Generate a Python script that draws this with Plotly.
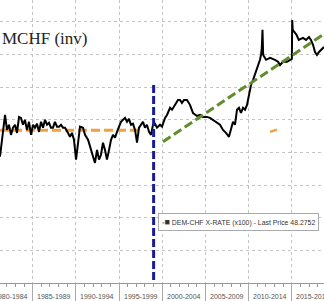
import plotly.graph_objects as go

# --- data ---
years = [1981.22, 1981.45, 1981.80, 1982.03, 1982.26, 1982.49, 1982.72, 1982.96, 1983.19, 1983.42,
         1983.65, 1983.88, 1984.11, 1984.34, 1984.58, 1984.81, 1985.04, 1985.27, 1985.50, 1985.73,
         1985.97, 1986.20, 1986.43, 1986.66, 1986.89, 1987.12, 1987.35, 1987.58, 1987.82, 1988.05,
         1988.28, 1988.51, 1988.74, 1988.97, 1989.32, 1989.55, 1989.78, 1990.02, 1990.25, 1990.48,
         1990.83, 1991.06, 1991.41, 1991.75, 1991.98, 1992.21, 1992.45, 1992.68, 1992.91, 1993.14,
         1993.37, 1993.60, 1993.84, 1994.07, 1994.30, 1994.53, 1994.76, 1994.99, 1995.22, 1995.46,
         1995.69, 1995.92, 1996.15, 1996.38, 1996.61, 1996.85, 1997.08, 1997.31, 1997.54, 1997.77,
         1998.00, 1998.23, 1998.47, 1998.70, 1998.93, 1999.16, 1999.39, 1999.74, 1999.97, 2000.32,
         2000.55, 2000.90, 2001.13, 2001.47, 2001.82, 2002.05, 2002.28, 2002.52, 2002.86, 2003.21,
         2003.56, 2004.02, 2004.37, 2004.71, 2005.18, 2005.52, 2005.87, 2006.33, 2006.68, 2007.03,
         2007.38, 2007.72, 2007.96, 2008.19, 2008.42, 2008.65, 2008.88, 2009.11, 2009.35, 2009.58,
         2009.81, 2010.04, 2010.27, 2010.50, 2010.73, 2010.85, 2011.08, 2011.31, 2011.43, 2011.52,
         2011.60, 2011.68, 2012.01, 2012.47, 2013.05, 2013.40, 2013.63, 2013.98, 2014.44, 2014.79,
         2015.00, 2015.04, 2015.10, 2015.30, 2015.55, 2015.80, 2016.00, 2016.29, 2016.64, 2016.98,
         2017.21, 2017.45, 2017.68, 2017.91, 2018.14, 2018.37, 2018.72]
dem_chf_inv = [91.3, 86.1, 78.5, 83.1, 81.5, 84.6, 82.4, 81.5, 84.0, 79.1,
               79.4, 81.5, 80.0, 83.1, 80.6, 84.6, 81.5, 82.4, 81.2, 83.7,
               80.6, 82.4, 80.0, 81.5, 80.9, 82.4, 82.4, 80.6, 82.1, 82.1,
               81.5, 82.4, 82.4, 83.4, 85.2, 84.0, 86.1, 92.2, 87.0, 82.1,
               82.4, 84.6, 86.1, 89.2, 90.7, 93.2, 89.2, 92.2, 90.7, 87.0,
               89.2, 92.2, 89.2, 86.1, 84.6, 85.5, 83.7, 82.4, 80.6, 80.0,
               79.4, 80.6, 79.7, 81.5, 81.2, 83.1, 87.0, 82.4, 81.5, 80.6,
               82.4, 81.5, 83.7, 84.6, 81.5, 81.2, 82.4, 81.5, 82.1, 79.4,
               78.5, 76.3, 76.9, 75.4, 73.9, 73.9, 74.8, 73.9, 73.9, 75.4,
               77.9, 78.8, 78.5, 79.1, 79.1, 79.4, 80.0, 80.9, 81.5, 83.1,
               84.0, 85.2, 83.1, 80.6, 81.5, 76.9, 76.3, 77.9, 76.3, 76.9,
               75.4, 72.3, 69.3, 67.8, 66.2, 65.3, 63.2, 61.6, 60.1, 58.0,
               52.4, 60.1, 61.6, 61.0, 61.6, 62.2, 63.2, 62.2, 62.2, 61.6,
               61.3, 49.4, 52.4, 53.1, 54.0, 55.5, 55.2, 54.9, 55.5, 54.6,
               55.5, 57.0, 59.2, 60.1, 59.2, 58.6, 57.7]

orange_x = [1981.22, 1997.70]
orange_y = [83.2, 83.2]
orange2_x = [2012.47, 2013.28]
orange2_y = [83.7, 83.0]
green_x = [2000.09, 2018.72]
green_y = [86.7, 53.7]
euro_x = [1999.0, 1999.0]
euro_y = [69.3, 130.0]

period_starts = [1980, 1985, 1990, 1995, 2000, 2005, 2010, 2015]
period_labels = ["1980-1984", "1985-1989", "1990-1994", "1995-1999",
                 "2000-2004", "2005-2009", "2010-2014", "2015-2019"]
grid_years = [1985, 1990, 1995, 2000, 2005, 2010, 2015]
grid_levels = [50, 60, 70, 80, 90, 100, 110, 120]

title_text = "MCHF (inv)"
legend_text = ("<span style='color:#aaa'>▪</span><span style='font-size:9px'>■</span>"
               " DEM-CHF X-RATE (x100) - Last Price 48.2752")

fig = go.Figure()
fig.add_trace(go.Scatter(x=orange_x, y=orange_y, mode="lines",
                         line=dict(color="#F2A03D", width=3, dash="9px,4px"), hoverinfo="skip"))
fig.add_trace(go.Scatter(x=orange2_x, y=orange2_y, mode="lines",
                         line=dict(color="#F2A03D", width=2.5), hoverinfo="skip"))
fig.add_trace(go.Scatter(x=years, y=dem_chf_inv, mode="lines",
                         line=dict(color="#000000", width=2)))
fig.add_trace(go.Scatter(x=green_x, y=green_y, mode="lines",
                         line=dict(color="#5F8E2A", width=3, dash="9px,4px"), hoverinfo="skip"))
fig.add_trace(go.Scatter(x=euro_x, y=euro_y, mode="lines",
                         line=dict(color="#1A1A9C", width=3, dash="8px,3px"), hoverinfo="skip"))

annotations = [
    dict(text=title_text, x=0, y=1 - 38.5 / 283, xref="paper", yref="paper",
         xanchor="left", yanchor="middle", showarrow=False,
         font=dict(family="Liberation Serif", size=17, color="#222")),
    dict(text=legend_text, x=238.5 / 324, y=(283 - 221.5) / 283, xref="paper", yref="paper",
         xanchor="center", yanchor="middle", showarrow=False,
         font=dict(family="Liberation Sans", size=6.9, color="#333"),
         bgcolor="white", bordercolor="#aaa", borderwidth=1, borderpad=3),
]
for s, lab in zip(period_starts, period_labels):
    annotations.append(dict(text=lab, x=s + 2.5, y=(283 - 296) / 283, xref="x", yref="paper",
                            xanchor="center", yanchor="middle", showarrow=False,
                            font=dict(family="Liberation Sans", size=7, color="#555")))

fig.update_layout(
    width=324, height=301, margin=dict(l=0, r=0, t=0, b=18),
    paper_bgcolor="white", plot_bgcolor="white", showlegend=False,
    annotations=annotations,
    xaxis=dict(range=[1981.22, 2018.72], tickvals=grid_years, showticklabels=False,
               showgrid=True, gridcolor="#c4c4c4", griddash="dot", gridwidth=1,
               ticks="outside", ticklen=18, tickcolor="#aaa", tickwidth=1,
               minor=dict(dtick=1, tick0=1981, ticks="outside", ticklen=3, tickcolor="#999",
                          showgrid=False),
               showline=True, linecolor="#999", linewidth=1, zeroline=False),
    yaxis=dict(range=[130, 43.27], tickvals=grid_levels, showticklabels=False,
               showgrid=True, gridcolor="#c4c4c4", griddash="dot", gridwidth=1,
               zeroline=False, ticks=""),
)
fig.write_html("out.html")
